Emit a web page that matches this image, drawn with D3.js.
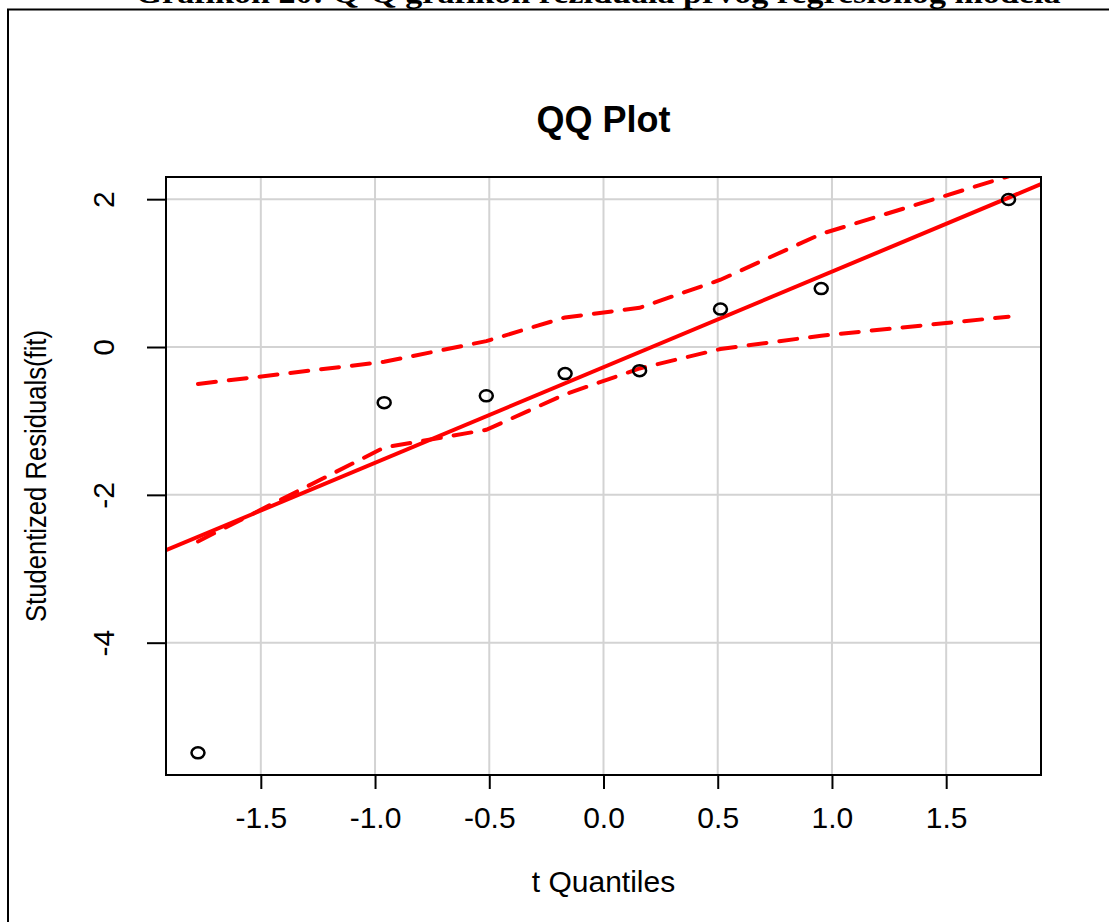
<!DOCTYPE html>
<html>
<head>
<meta charset="utf-8">
<script src="https://cdn.jsdelivr.net/npm/d3@7"></script>
<style>
  body { margin: 0; background: #fff; }
  svg { display: block; }
</style>
</head>
<body>
<div id="chart"></div>
<script>
// t quantiles (x) and studentized residuals (y)
var tQuantiles = [-1.775, -0.96, -0.513, -0.168, 0.158, 0.512, 0.953, 1.773];
var residuals  = [-5.49, -0.753, -0.66, -0.36, -0.32, 0.513, 0.79, 1.996];
// confidence envelope at the same quantiles
var envUpper   = [-0.50, -0.20, 0.08, 0.40, 0.53, 0.91, 1.53, 2.31];
var envLower   = [-2.63, -1.36, -1.12, -0.64, -0.29, -0.027, 0.153, 0.41];
// reference line
var lineIntercept = -0.273, lineSlope = 1.293;

var xTicks = [-1.5, -1.0, -0.5, 0.0, 0.5, 1.0, 1.5];
var yTicks = [-4, -2, 0, 2];

var W = 1109, H = 922;
var margin = {top: 177, right: 68, bottom: 147, left: 166},
    width = W - margin.left - margin.right,
    height = H - margin.top - margin.bottom;

var svg = d3.select("#chart")
    .append("svg")
    .attr("width", W)
    .attr("height", H);

// document frame and the caption, cut off at the top like in the scan
svg.append("text")
    .attr("x", 598)
    .attr("y", 3)
    .attr("text-anchor", "middle")
    .attr("font-family", "Liberation Serif, serif")
    .attr("font-weight", "bold")
    .attr("font-size", 30)
    .attr("textLength", 925)
    .attr("lengthAdjust", "spacingAndGlyphs")
    .text("Grafikon 20: Q-Q grafikon reziduala prvog regresionog modela");

svg.append("path")
    .attr("d", "M8," + H + "V9.5H" + W)
    .attr("fill", "none")
    .attr("stroke", "#000")
    .attr("stroke-width", 2);

var g = svg.append("g")
    .attr("transform", "translate(" + margin.left + "," + margin.top + ")");

var x = d3.scaleLinear().domain([-1.915, 1.915]).range([0, width]);
var y = d3.scaleLinear().domain([-5.79, 2.30]).range([height, 0]);

g.append("clipPath").attr("id", "clip")
    .append("rect").attr("width", width).attr("height", height);

// grid
g.append("g").selectAll("line").data(xTicks).enter().append("line")
    .attr("x1", function(d) { return x(d); })
    .attr("x2", function(d) { return x(d); })
    .attr("y1", 0).attr("y2", height)
    .attr("stroke", "#d3d3d3").attr("stroke-width", 2);
g.append("g").selectAll("line").data(yTicks).enter().append("line")
    .attr("y1", function(d) { return y(d); })
    .attr("y2", function(d) { return y(d); })
    .attr("x1", 0).attr("x2", width)
    .attr("stroke", "#d3d3d3").attr("stroke-width", 2);

var plot = g.append("g").attr("clip-path", "url(#clip)");

// envelope
var env = d3.line()
    .x(function(d) { return x(d[0]); })
    .y(function(d) { return y(d[1]); });

[envUpper, envLower].forEach(function(band) {
    plot.append("path")
        .datum(d3.zip(tQuantiles, band))
        .attr("d", env)
        .attr("fill", "none")
        .attr("stroke", "#ff0000")
        .attr("stroke-width", 4)
        .attr("stroke-dasharray", "18,13")
        .attr("stroke-linecap", "round");
});

// reference line
var xd = x.domain();
plot.append("line")
    .attr("x1", x(xd[0])).attr("y1", y(lineIntercept + lineSlope * xd[0]))
    .attr("x2", x(xd[1])).attr("y2", y(lineIntercept + lineSlope * xd[1]))
    .attr("stroke", "#ff0000")
    .attr("stroke-width", 4);

// points
g.append("g").selectAll("ellipse")
    .data(d3.zip(tQuantiles, residuals))
    .enter().append("ellipse")
    .attr("cx", function(d) { return x(d[0]); })
    .attr("cy", function(d) { return y(d[1]); })
    .attr("rx", 6.5).attr("ry", 5.5)
    .attr("fill", "none")
    .attr("stroke", "#000")
    .attr("stroke-width", 2.5);

// box
g.append("rect")
    .attr("width", width).attr("height", height)
    .attr("fill", "none").attr("stroke", "#000").attr("stroke-width", 2);

// axes (plain hyphen for negatives, as R prints them)
var fx = d3.format(".1f"), fy = d3.format("d");
var xAxis = g.append("g")
    .attr("transform", "translate(0," + height + ")")
    .call(d3.axisBottom(x).tickValues(xTicks).tickSize(14).tickPadding(18)
        .tickFormat(function(d) { return fx(d).replace("\u2212", "-"); }));
xAxis.select(".domain").remove();

var yAxis = g.append("g")
    .call(d3.axisLeft(y).tickValues(yTicks).tickSize(19).tickPadding(0)
        .tickFormat(function(d) { return fy(d).replace("\u2212", "-"); }));
yAxis.select(".domain").remove();

[xAxis, yAxis].forEach(function(a) {
    a.selectAll("line").attr("stroke", "#000").attr("stroke-width", 2);
    a.selectAll("text")
        .attr("font-family", "Liberation Sans, Arial, sans-serif")
        .attr("font-size", 30)
        .attr("fill", "#000");
});
xAxis.selectAll("text").attr("dy", "0.71em");
yAxis.selectAll("text")
    .attr("x", null).attr("dy", null)
    .attr("text-anchor", "middle")
    .attr("transform", "translate(-62,0) rotate(-90) translate(0,10)");

// labels
svg.append("text")
    .attr("x", margin.left + width / 2)
    .attr("y", 892)
    .attr("text-anchor", "middle")
    .attr("font-family", "Liberation Sans, Arial, sans-serif")
    .attr("font-size", 30)
    .text("t Quantiles");

svg.append("text")
    .attr("transform", "translate(46," + (margin.top + height / 2) + ") rotate(-90)")
    .attr("text-anchor", "middle")
    .attr("font-family", "Liberation Sans, Arial, sans-serif")
    .attr("font-size", 30)
    .attr("textLength", 292)
    .attr("lengthAdjust", "spacingAndGlyphs")
    .text("Studentized Residuals(fit)");

svg.append("text")
    .attr("x", margin.left + width / 2)
    .attr("y", 132)
    .attr("text-anchor", "middle")
    .attr("font-family", "Liberation Sans, Arial, sans-serif")
    .attr("font-weight", "bold")
    .attr("font-size", 36)
    .text("QQ Plot");
</script>
</body>
</html>
